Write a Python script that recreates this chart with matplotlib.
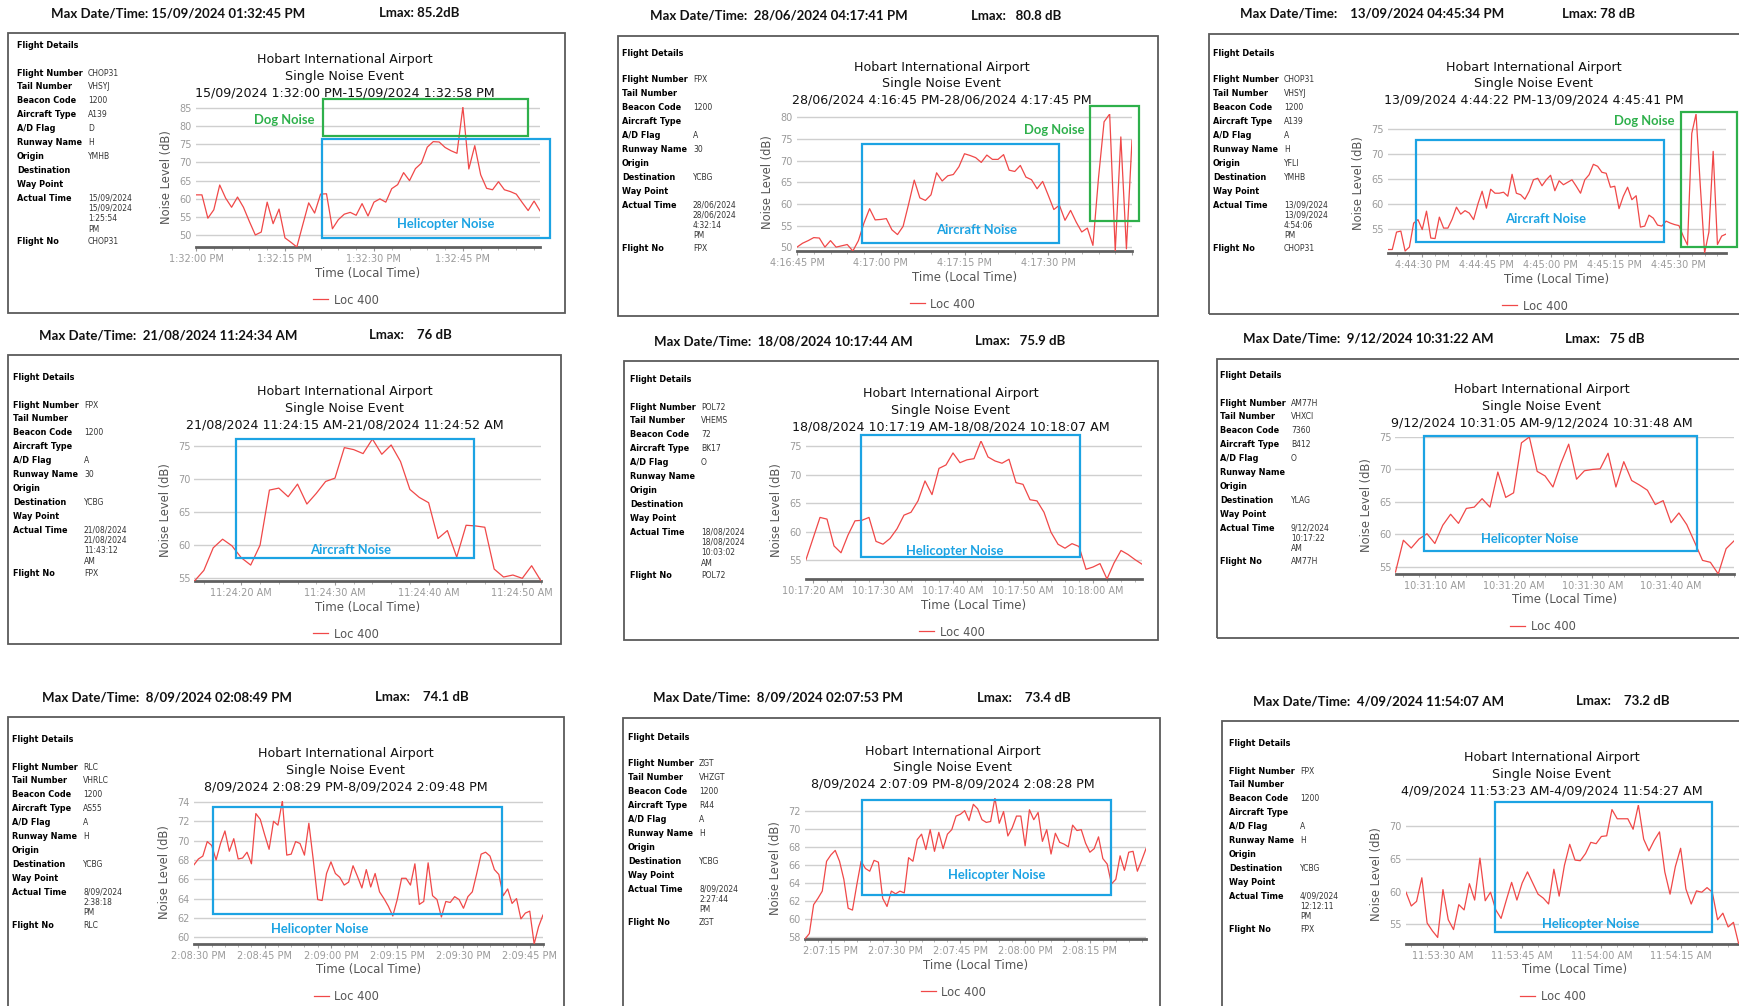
import matplotlib
matplotlib.use('Agg')
import matplotlib.pyplot as plt
from matplotlib.patches import Rectangle
from matplotlib.ticker import MultipleLocator, FuncFormatter
import numpy as np

# ---- data (one second per sample) ----
p1_date, p1_start = '15/09/2024', '1:32:00 PM'
p1_levels = [61.1, 61.1, 54.7, 57.0, 63.8, 60.2, 57.7, 60.5, 57.7, 53.8, 50.1, 50.9, 59.1, 53.2, 57.2,
             49.3, 48.1, 46.8, 52.9, 58.9, 56.1, 61.3, 61.4, 51.8, 54.3, 55.8, 56.3, 55.5, 58.7, 55.3,
             59.1, 60.0, 59.1, 62.8, 63.9, 67.2, 65.0, 68.3, 69.8, 74.2, 75.7, 75.6, 74.1, 73.2, 72.5,
             85.2, 68.2, 74.6, 66.6, 62.9, 62.5, 64.7, 62.5, 62.0, 61.3, 59.0, 56.8, 59.4, 56.7]

p2_date, p2_start = '28/06/2024', '4:16:45 PM'
p2_levels = [50.0, 50.9, 51.5, 52.2, 52.1, 50.0, 51.5, 50.0, 50.3, 50.6, 49.1, 51.5, 55.6, 58.9, 56.3,
             56.4, 56.6, 54.0, 52.9, 54.8, 60.0, 65.5, 61.4, 60.8, 62.1, 67.2, 65.3, 66.5, 66.8, 68.6,
             71.6, 71.2, 70.7, 69.6, 71.3, 70.3, 70.3, 71.4, 67.8, 67.5, 68.9, 66.2, 65.6, 63.5, 65.2,
             62.0, 58.7, 59.7, 56.2, 58.5, 55.8, 53.5, 54.4, 50.4, 66.0, 79.0, 80.8, 49.1, 75.5, 49.6,
             74.7]

p3_date, p3_start = '13/09/2024', '4:44:22 PM'
p3_levels = [50.8, 50.8, 54.3, 54.5, 50.5, 51.3, 56.1, 56.8, 54.8, 58.5, 53.1, 53.0, 57.3, 55.1, 55.1,
             56.9, 59.3, 57.9, 58.6, 58.1, 56.8, 59.9, 62.5, 59.1, 62.9, 62.1, 62.1, 62.3, 61.5, 65.9,
             62.1, 61.8, 60.9, 62.5, 64.8, 65.1, 63.6, 64.8, 65.7, 62.6, 64.6, 63.8, 64.3, 64.8, 63.5,
             62.1, 64.8, 65.8, 67.9, 67.5, 66.3, 66.1, 63.3, 63.5, 59.0, 61.5, 63.3, 60.8, 61.6, 55.3,
             55.5, 57.7, 57.1, 55.7, 55.5, 56.5, 56.1, 55.8, 55.6, 53.5, 51.7, 74.1, 78.0, 63.5, 50.1,
             54.3, 70.5, 51.8, 53.5, 53.9]

p4_date, p4_start = '21/08/2024', '11:24:15 AM'
p4_levels = [54.6, 56.2, 59.6, 60.9, 59.9, 58.1, 57.0, 60.0, 68.3, 68.6, 67.3, 69.2, 66.2, 67.8, 69.6,
             70.1, 74.7, 74.4, 73.8, 76.0, 73.7, 75.1, 72.6, 68.4, 67.2, 66.4, 61.0, 62.2, 58.2, 63.0,
             62.9, 62.7, 56.4, 55.2, 55.5, 55.0, 56.9, 54.6]

p5_date, p5_start = '18/08/2024', '10:17:19 AM'
p5_levels = [55.1, 58.8, 62.5, 62.2, 57.5, 56.3, 59.4, 61.9, 62.0, 62.5, 58.3, 57.8, 58.8, 60.5, 62.9,
             63.4, 65.4, 68.9, 66.5, 71.1, 71.7, 73.8, 72.1, 72.6, 72.8, 75.9, 73.1, 72.4, 72.0, 72.7,
             68.6, 68.3, 65.6, 65.4, 63.4, 59.9, 57.8, 57.1, 57.9, 57.4, 53.4, 53.8, 54.4, 51.7, 54.5,
             56.7, 56.0, 55.1, 54.3]

p6_date, p6_start = '9/12/2024', '10:31:05 AM'
p6_levels = [54.2, 59.1, 57.9, 59.3, 60.1, 58.6, 61.4, 63.1, 61.7, 64.0, 64.2, 65.5, 64.2, 69.6, 65.7,
             66.4, 74.1, 75.0, 69.7, 69.0, 67.3, 70.9, 73.9, 68.5, 69.8, 70.0, 70.1, 72.5, 67.3, 71.2,
             68.3, 67.6, 66.8, 64.6, 65.2, 61.8, 63.3, 61.5, 58.8, 56.0, 55.7, 53.9, 57.8, 59.0]

p7_date, p7_start = '8/09/2024', '2:08:29 PM'
p7_levels = [67.5, 68.1, 68.4, 69.9, 69.5, 68.0, 69.7, 71.0, 68.9, 70.2, 68.1, 68.2, 68.8, 67.6, 72.8,
             72.2, 70.6, 69.1, 72.0, 71.6, 74.1, 68.5, 68.6, 69.9, 69.7, 68.5, 71.8, 68.0, 63.9, 63.8,
             66.6, 67.8, 66.6, 66.2, 65.4, 65.7, 67.4, 66.3, 65.1, 67.0, 65.2, 66.6, 64.7, 64.0, 63.2,
             62.2, 63.9, 66.1, 66.1, 65.4, 67.6, 63.4, 63.7, 67.7, 64.3, 63.9, 62.1, 63.7, 63.6, 64.2,
             63.9, 63.0, 64.2, 64.7, 66.6, 68.6, 68.8, 68.4, 67.0, 66.5, 64.3, 65.0, 63.5, 64.0, 61.9,
             62.5, 62.7, 59.3, 61.1, 62.3]

p8_date, p8_start = '8/09/2024', '2:07:09 PM'
p8_levels = [57.8, 58.4, 61.6, 62.3, 63.1, 66.4, 67.1, 67.6, 66.4, 64.4, 61.2, 61.0, 63.8, 66.4, 65.6,
             65.3, 66.5, 66.3, 62.3, 61.4, 63.1, 62.8, 63.1, 62.9, 66.8, 66.4, 68.8, 69.4, 67.7, 69.9,
             67.5, 69.6, 67.8, 69.4, 69.9, 71.4, 71.6, 72.0, 70.9, 72.7, 72.2, 71.0, 70.7, 70.8, 73.4,
             70.6, 71.9, 69.2, 70.1, 71.4, 71.4, 68.1, 72.1, 71.0, 71.8, 68.6, 69.9, 67.2, 69.5, 68.5,
             68.3, 68.0, 70.4, 69.8, 69.9, 68.4, 67.4, 67.8, 69.1, 66.7, 66.1, 63.9, 64.4, 67.0, 65.4,
             67.4, 67.5, 65.3, 66.5, 67.8]

p9_date, p9_start = '4/09/2024', '11:53:23 AM'
p9_levels = [59.9, 57.8, 58.5, 62.1, 55.2, 54.0, 53.0, 60.3, 55.7, 54.2, 58.0, 57.2, 61.2, 58.7, 65.1,
             58.6, 59.9, 57.2, 55.9, 58.7, 61.4, 58.7, 61.3, 63.0, 61.3, 59.6, 59.0, 58.1, 63.4, 59.3,
             64.0, 67.2, 64.8, 64.7, 65.8, 67.5, 67.3, 68.4, 68.5, 72.5, 71.1, 71.1, 71.1, 69.5, 73.2,
             68.0, 66.2, 67.8, 69.1, 63.0, 59.6, 63.8, 66.6, 60.4, 58.1, 60.1, 59.9, 60.6, 59.9, 55.7,
             56.7, 54.6, 55.3, 52.0, 52.4]

# header lines above each report
max_times = ['Max Date/Time: 15/09/2024 01:32:45 PM', 'Max Date/Time:  28/06/2024 04:17:41 PM',
             'Max Date/Time:    13/09/2024 04:45:34 PM', 'Max Date/Time:  21/08/2024 11:24:34 AM',
             'Max Date/Time:  18/08/2024 10:17:44 AM', 'Max Date/Time:  9/12/2024 10:31:22 AM',
             'Max Date/Time:  8/09/2024 02:08:49 PM', 'Max Date/Time:  8/09/2024 02:07:53 PM',
             'Max Date/Time:  4/09/2024 11:54:07 AM']
lmax_texts = ['Lmax: 85.2dB', 'Lmax:   80.8 dB', 'Lmax: 78 dB', 'Lmax:    76 dB', 'Lmax:   75.9 dB',
              'Lmax:   75 dB', 'Lmax:    74.1 dB', 'Lmax:    73.4 dB', 'Lmax:    73.2 dB']

# flight details
detail_labels = ['Flight Number', 'Tail Number', 'Beacon Code', 'Aircraft Type', 'A/D Flag',
                 'Runway Name', 'Origin', 'Destination', 'Way Point', 'Actual Time']
details = [
    ['CHOP31', 'VHSYJ', '1200', 'A139', 'D', 'H', 'YMHB', '', ''],
    ['FPX', '', '1200', '', 'A', '30', '', 'YCBG', ''],
    ['CHOP31', 'VHSYJ', '1200', 'A139', 'A', 'H', 'YFLI', 'YMHB', ''],
    ['FPX', '', '1200', '', 'A', '30', '', 'YCBG', ''],
    ['POL72', 'VHEMS', '72', 'BK17', 'O', '', '', '', ''],
    ['AM77H', 'VHXCI', '7360', 'B412', 'O', '', '', 'YLAG', ''],
    ['RLC', 'VHRLC', '1200', 'AS55', 'A', 'H', '', 'YCBG', ''],
    ['ZGT', 'VHZGT', '1200', 'R44', 'A', 'H', '', 'YCBG', ''],
    ['FPX', '', '1200', '', 'A', 'H', '', 'YCBG', ''],
]
actual_times = [
    ['15/09/2024', '15/09/2024', '1:25:54', 'PM'],
    ['28/06/2024', '28/06/2024', '4:32:14', 'PM'],
    ['13/09/2024', '13/09/2024', '4:54:06', 'PM'],
    ['21/08/2024', '21/08/2024', '11:43:12', 'AM'],
    ['18/08/2024', '18/08/2024', '10:03:02', 'AM'],
    ['9/12/2024', '10:17:22', 'AM'],
    ['8/09/2024', '2:38:18', 'PM'],
    ['8/09/2024', '2:27:44', 'PM'],
    ['4/09/2024', '12:12:11', 'PM'],
]
flight_nos = ['CHOP31', 'FPX', 'CHOP31', 'FPX', 'POL72', 'AM77H', 'RLC', 'ZGT', 'FPX']

# marked regions: (kind, t0, t1, dB0, dB1, label t, label dB), t in seconds from start
marks = [
    [('Dog Noise', 21.4, 55.9, 77.3, 87.4, 14.9, 81.6), ('Helicopter Noise', 21.2, 59.7, 49.4, 76.3, 42.1, 53.1)],
    [('Aircraft Noise', 11.6, 47.0, 50.9, 73.8, 32.1, 54.0), ('Dog Noise', 52.4, 61.3, 56.0, 82.6, 46.0, 77.2)],
    [('Aircraft Noise', 6.5, 64.4, 52.4, 72.8, 36.8, 57.0), ('Dog Noise', 68.5, 81.5, 51.3, 78.5, 59.8, 76.5)],
    [('Aircraft Noise', 4.4, 29.8, 58.0, 76.0, 16.7, 59.2)],
    [('Helicopter Noise', 7.9, 39.1, 55.5, 76.9, 21.3, 56.6)],
    [('Helicopter Noise', 3.6, 38.3, 57.5, 75.2, 17.0, 59.3)],
    [('Helicopter Noise', 4.4, 69.8, 62.4, 73.5, 28.4, 60.9)],
    [('Helicopter Noise', 13.3, 71.0, 62.7, 73.2, 44.3, 64.9)],
    [('Helicopter Noise', 16.9, 57.9, 53.9, 73.6, 34.9, 55.1)],
]

dates = [p1_date, p2_date, p3_date, p4_date, p5_date, p6_date, p7_date, p8_date, p9_date]
starts = [p1_start, p2_start, p3_start, p4_start, p5_start, p6_start, p7_start, p8_start, p9_start]
levels = [p1_levels, p2_levels, p3_levels, p4_levels, p5_levels, p6_levels, p7_levels, p8_levels, p9_levels]
major_step = [15, 15, 15, 10, 10, 10, 15, 15, 15]
y_step = [5, 5, 5, 5, 5, 5, 2, 2, 5]

# ---- layout, in pixels of the 1740x1006 canvas ----
W, H = 1740, 1006
frames = [(8, 33, 565, 313), (618, 36, 1158, 316), (1209, 34, 1748, 314),
          (8, 355, 561, 644), (624, 361, 1158, 640), (1217, 359, 1748, 638),
          (8, 717, 564, 1012), (623, 718, 1160, 1012), (1222, 721, 1748, 1012)]
axes_px = [(196, 107, 540, 247), (797, 114, 1132, 251), (1388, 114, 1726, 253),
           (194.5, 439, 541, 581), (806, 441, 1142, 579), (1395.5, 437, 1734, 574),
           (194, 801, 543, 944), (805, 798, 1146, 939), (1406, 805, 1744, 944)]
header_dx = [43, 32, 31, 31, 30, 26, 34, 30, 31]
lmax_dx = [371, 353, 353, 361, 351, 348, 367, 354, 354]
label_dx = [9, 4, 4, 5, 6, 3, 4, 5, 7]

mark_colors = {'Dog Noise': '#2eb04b', 'Helicopter Noise': '#1ca3e3', 'Aircraft Noise': '#1ca3e3'}
line_color = '#f04848'
tick_grey = '#9a9a9a'


def fx(px):
    return px / W


def fy(py):
    return 1 - py / H


def to_seconds(txt):
    clock, ampm = txt.split()
    h, m, s = [int(v) for v in clock.split(':')]
    h = h % 12 + (12 if ampm == 'PM' else 0)
    return h * 3600 + m * 60 + s


def clock_label(sec):
    s = int(round(sec)) % 86400
    h, rem = divmod(s, 3600)
    m, s2 = divmod(rem, 60)
    ampm = 'AM' if h < 12 else 'PM'
    return f'{h % 12 or 12}:{m:02d}:{s2:02d} {ampm}'


def tick_formatter(end):
    # the report leaves the tick at the very end of the axis unlabelled
    return FuncFormatter(lambda v, pos: '' if v >= end - 0.01 else clock_label(v))


fig = plt.figure(figsize=(W / 100, H / 100), dpi=100)
fig.patch.set_facecolor('white')

for i in range(9):
    l, t, r, b = frames[i]
    al, at, ar, ab = axes_px[i]

    # report frame and header
    fig.add_artist(Rectangle((fx(l), fy(b)), (r - l) / W, (b - t) / H, transform=fig.transFigure,
                             fill=False, edgecolor='#5a5a5a', linewidth=1.3))
    fig.text(fx(l + header_dx[i]), fy(t - 20), max_times[i], family='Lato', weight='bold',
             fontsize=9.5, va='center', color='#111111')
    fig.text(fx(l + lmax_dx[i]), fy(t - 20), lmax_texts[i], family='Lato', weight='bold',
             fontsize=9.5, va='center', color='#111111')

    # flight details
    lx = l + label_dx[i]
    vx = lx + 71
    fig.text(fx(lx), fy(at - 61), 'Flight Details', fontsize=5.85, weight='bold', va='center')
    row_y = at - 34
    for k, lab in enumerate(detail_labels):
        y = row_y + 13.9 * k
        fig.text(fx(lx), fy(y), lab, fontsize=5.85, weight='bold', va='center')
        if k < 9:
            fig.text(fx(vx), fy(y), details[i][k], fontsize=5.5, va='center', color='#333333')
    act_y = row_y + 13.9 * 9
    for k, line in enumerate(actual_times[i]):
        fig.text(fx(vx), fy(act_y + 10.3 * k), line, fontsize=5.5, va='center', color='#333333')
    fno_y = act_y + 10.3 * (len(actual_times[i]) - 1) + 12.6
    fig.text(fx(lx), fy(fno_y), 'Flight No', fontsize=5.85, weight='bold', va='center')
    fig.text(fx(vx), fy(fno_y), flight_nos[i], fontsize=5.5, va='center', color='#333333')

    # chart
    ax = fig.add_axes([fx(al), fy(ab), (ar - al) / W, (ab - at) / H])
    ax.set_facecolor('none')
    t0 = to_seconds(starts[i])
    vals = np.array(levels[i])
    x = t0 + np.arange(len(vals))
    ax.plot(x, vals, color=line_color, linewidth=0.9, label='Loc 400', zorder=3)
    ax.set_xlim(x[0], x[-1])
    ax.set_ylim(vals.min(), vals.max())

    ax.xaxis.set_major_locator(MultipleLocator(major_step[i]))
    ax.xaxis.set_minor_locator(MultipleLocator(major_step[i] / 5))
    ax.xaxis.set_major_formatter(tick_formatter(x[-1]))
    ax.yaxis.set_major_locator(MultipleLocator(y_step[i]))
    ax.yaxis.grid(True, color='#cfcfcf', linewidth=1.0)
    ax.set_axisbelow(True)
    for side in ['left', 'right', 'top']:
        ax.spines[side].set_visible(False)
    ax.spines['bottom'].set_color('#606060')
    ax.spines['bottom'].set_linewidth(2.0)
    ax.tick_params(axis='y', length=0, labelsize=7.0, labelcolor=tick_grey, pad=3)
    ax.tick_params(axis='x', which='major', length=3, width=0.8, color='#999999',
                   labelsize=7.0, labelcolor=tick_grey, pad=2)
    ax.tick_params(axis='x', which='minor', length=2, width=0.6, color='#aaaaaa')

    # titles and axis labels
    cx = (al + ar) / 2
    title_lines = ['Hobart International Airport', 'Single Noise Event',
                   f'{dates[i]} {clock_label(x[0])}-{dates[i]} {clock_label(x[-1])}']
    for k, line in enumerate(title_lines):
        fig.text(fx(cx - 23), fy(at - 47 + 16.5 * k), line, ha='center', va='center',
                 fontsize=9.1, color='#111111')
    fig.text(fx(al - 29), fy((at + ab) / 2), 'Noise Level (dB)', rotation=90, ha='center',
             va='center', fontsize=8.3, color='#555555')
    fig.text(fx(cx), fy(ab + 26), 'Time (Local Time)', ha='center', va='center',
             fontsize=8.5, color='#555555')
    ax.legend(loc='center', bbox_to_anchor=(fx(cx - 22), fy(ab + 53)), bbox_transform=fig.transFigure,
              frameon=False, fontsize=8.3, handlelength=1.3, handletextpad=0.5, labelcolor='#555555')

    # marked regions
    for kind, m0, m1, v0, v1, tx, tv in marks[i]:
        c = mark_colors[kind]
        ax.add_patch(Rectangle((t0 + m0, v0), m1 - m0, v1 - v0, fill=False, edgecolor=c,
                               linewidth=1.6, clip_on=False, zorder=4))
        ax.text(t0 + tx, tv, kind, color=c, family='Lato', weight='bold', fontsize=9.4,
                ha='center', va='center', zorder=5, clip_on=False)

fig.savefig('out.png', dpi=100)
